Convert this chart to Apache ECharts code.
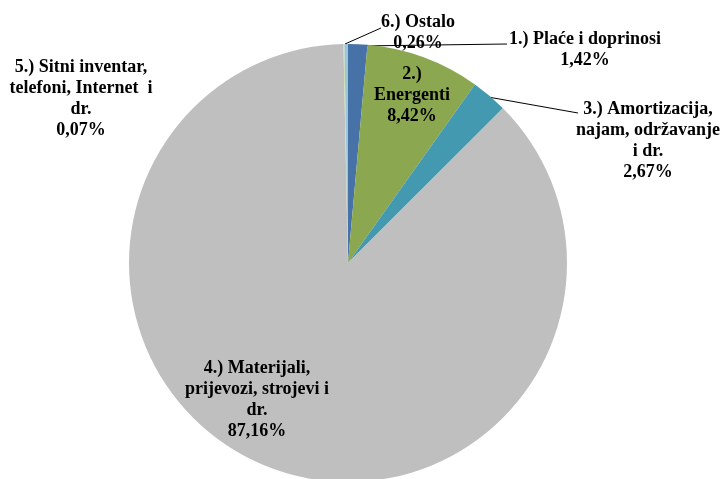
<!DOCTYPE html>
<html>
<head>
<meta charset="utf-8">
<script src="https://cdn.jsdelivr.net/npm/echarts@6/dist/echarts.min.js"></script>
<style>html,body{margin:0;padding:0;background:#fff}#c{width:722px;height:479px}</style>
</head>
<body>
<div id="c"></div>
<script>
const categories = [
  "1.) Plaće i doprinosi",
  "2.)\nEnergenti",
  "3.) Amortizacija,\nnajam, održavanje\ni dr.",
  "4.) Materijali,\nprijevozi, strojevi i\ndr.",
  "5.) Sitni inventar,\ntelefoni, Internet  i\ndr.",
  "6.) Ostalo"
];
const values = [1.42, 8.42, 2.67, 87.16, 0.07, 0.26];
const colors = ["#4672A8", "#8BA74F", "#4299B0", "#BFBFBF", "#C9DCA5", "#9CC6DA"];
const showLeader = [true, false, true, false, false, true];

// label centre positions and leader-line paths (layout, not data)
const labelPos = [
  {x: 585, y: 50, line: [[358, 46], [507, 44]]},
  {x: 412, y: 95},
  {x: 648, y: 141, line: [[488, 97], [578, 113]]},
  {x: 257, y: 400},
  {x: 81, y: 99},
  {x: 418, y: 33, line: [[345, 44], [381, 28]]}
];

const chart = echarts.init(document.getElementById('c'), null, {renderer: 'canvas'});
chart.setOption({
  animation: false,
  series: [{
    type: 'pie',
    center: [348, 263],
    radius: 219,
    startAngle: 90,
    clockwise: true,
    avoidLabelOverlap: false,
    data: categories.map((n, i) => ({
      name: n,
      value: values[i],
      itemStyle: {color: colors[i]},
      labelLine: {show: showLeader[i]}
    })),
    itemStyle: {borderWidth: 0},
    label: {
      show: true,
      position: 'outside',
      fontFamily: '"Liberation Serif", "Times New Roman", serif',
      fontWeight: 'bold',
      fontSize: 18,
      lineHeight: 21,
      color: '#000',
      align: 'center',
      formatter: p => p.name + '\n' + p.value.toFixed(2).replace('.', ',') + '%'
    },
    labelLine: {
      show: false,
      lineStyle: {color: '#000', width: 1}
    },
    labelLayout: function (params) {
      const lp = labelPos[params.dataIndex];
      const o = {x: lp.x, y: lp.y, align: 'center', verticalAlign: 'middle'};
      if (lp.line) o.labelLinePoints = [lp.line[0], lp.line[0], lp.line[1]];
      return o;
    },
    emphasis: {disabled: true}
  }]
});
</script>
</body>
</html>
